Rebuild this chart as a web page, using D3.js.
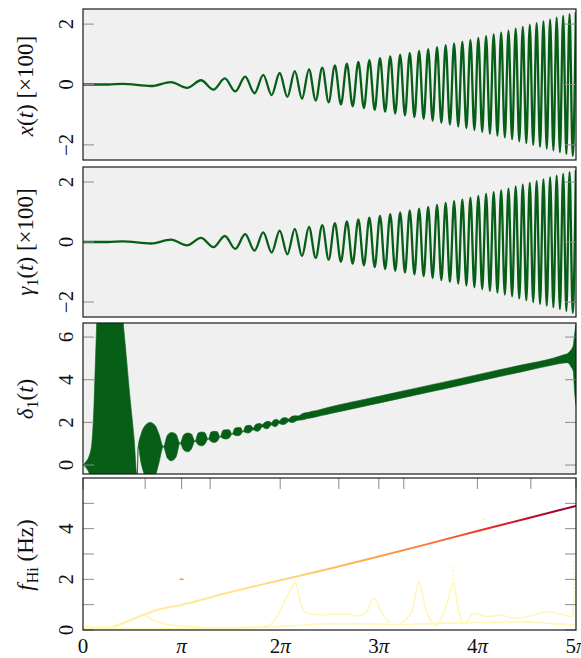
<!DOCTYPE html>
<html><head><meta charset="utf-8">
<script src="https://cdn.jsdelivr.net/npm/d3@7"></script>
<style>
body{margin:0;background:#fff}
text{font-family:"Liberation Serif","DejaVu Serif",serif;fill:#111}
</style>
</head><body>
<svg id="c" width="581" height="658"></svg>
<script>
// ---------- DATA ----------
// times of the successive extrema of x(t) and gamma1(t)
const extremaT = [1.2533,2.1708,2.8025,3.3160,3.7600,4.1568,4.5189,4.8541,5.1675,5.4631,5.7434,6.0107,6.2666,6.5124,6.7493,6.9782,7.1998,7.4147,7.6236,7.8269,8.0251,8.2185,8.4075,8.5923,8.7732,8.9505,9.1242,9.2948,9.4623,9.6269,9.7887,9.9479,10.1046,10.2589,10.4108,10.5606,10.7083,10.8540,10.9978,11.1397,11.2798,11.4183,11.5550,11.6901,11.8237,11.9559,12.0865,12.2158,12.3437,12.4703,12.5956,12.7198,12.8427,12.9644,13.0850,13.2045,13.3229,13.4403,13.5567,13.6720,13.7865,13.8999,14.0125,14.1242,14.2349,14.3448,14.4539,14.5622,14.6697,14.7764,14.8823,14.9875,15.0919,15.1956,15.2986,15.4010,15.5026,15.6036,15.7040];
// x(t) values at those extrema (x100)
const xValues = [0.02,-0.05,0.08,-0.11,0.14,-0.17,0.20,-0.23,0.26,-0.29,0.32,-0.35,0.38,-0.41,0.44,-0.47,0.50,-0.53,0.56,-0.59,0.63,-0.66,0.69,-0.72,0.75,-0.78,0.81,-0.84,0.87,-0.90,0.93,-0.96,0.99,-1.02,1.05,-1.08,1.11,-1.14,1.17,-1.20,1.24,-1.27,1.30,-1.33,1.36,-1.39,1.42,-1.45,1.48,-1.51,1.54,-1.57,1.60,-1.63,1.66,-1.69,1.72,-1.75,1.78,-1.81,1.85,-1.88,1.91,-1.94,1.97,-2.00,2.03,-2.06,2.09,-2.12,2.15,-2.18,2.21,-2.24,2.27,-2.30,2.33,-2.36,2.39];
// gamma1(t) values at those extrema (x100)
const gammaValues = [0.02,-0.05,0.08,-0.11,0.14,-0.17,0.20,-0.23,0.26,-0.29,0.32,-0.35,0.38,-0.41,0.44,-0.47,0.50,-0.53,0.56,-0.59,0.63,-0.66,0.69,-0.72,0.75,-0.78,0.81,-0.84,0.87,-0.90,0.93,-0.96,0.99,-1.02,1.05,-1.08,1.11,-1.14,1.17,-1.20,1.24,-1.27,1.30,-1.33,1.36,-1.39,1.42,-1.45,1.48,-1.51,1.54,-1.57,1.60,-1.63,1.66,-1.69,1.72,-1.75,1.78,-1.81,1.85,-1.88,1.91,-1.94,1.97,-2.00,2.03,-2.06,2.09,-2.12,2.15,-2.18,2.21,-2.24,2.27,-2.30,2.33,-2.36,2.39];

// delta1(t): envelope (lower / upper) of the fast-oscillating band
const deltaT  = [0,0.09,0.19,0.28,0.35,0.41,0.48,1.18,1.31,1.50,1.63,1.72,1.76,1.85,1.98,2.14,2.30,2.42,2.56,
  2.69,2.82,2.96,3.09, 3.21,3.33,3.45,3.57, 3.67,3.78,3.88,3.99, 4.08,4.18,4.28,4.37, 4.46,4.56,4.66,4.75,
  4.84,4.93,5.02,5.10, 5.18,5.26,5.34,5.42, 5.50,5.57,5.64,5.71, 5.79,5.86,5.93,6.00, 6.07,6.13,6.19,6.25,
  6.33,6.40,6.47,6.55, 6.63,6.70,6.77,6.85, 7.00,7.15,7.30,7.45,7.60, 8,9,10,11,12,13,14,15,15.30,15.45,15.55,15.62,15.66,15.71];
const deltaLo = [0,-0.10,-0.35,-0.70,-1,-1,-1,-1,-1,-1,-1,-1,0.86,0.10,-0.50,-0.70,-0.50,0.10,0.86,
  0.32,0.20,0.36,1.02, 0.70,0.62,0.74,1.12, 0.95,0.90,0.98,1.22, 1.10,1.06,1.12,1.32, 1.25,1.22,1.27,1.45,
  1.40,1.37,1.42,1.57, 1.52,1.50,1.55,1.66, 1.60,1.58,1.65,1.80, 1.72,1.70,1.76,1.88, 1.82,1.80,1.85,1.96,
  1.90,1.90,1.95,2.04, 2.00,2.00,2.05,2.10, 2.12,2.18,2.22,2.27,2.32, 2.45,2.77,3.09,3.41,3.73,4.06,4.38,4.70,4.78,4.80,4.60,4.40,3.50,2.80];
const deltaHi = [0,0.15,0.40,1.00,2.80,5.50,8,8,6.20,3.13,1.20,-0.50,0.86,1.45,1.85,2.00,1.85,1.45,0.86,
  1.40,1.53,1.45,1.02, 1.42,1.50,1.46,1.12, 1.50,1.55,1.52,1.22, 1.55,1.58,1.56,1.32, 1.63,1.66,1.65,1.45,
  1.73,1.76,1.76,1.57, 1.83,1.86,1.86,1.74, 1.90,1.94,1.95,1.90, 2.00,2.04,2.05,1.98, 2.10,2.14,2.14,2.06,
  2.18,2.22,2.22,2.16, 2.26,2.30,2.31,2.30, 2.42,2.46,2.52,2.56,2.62, 2.77,3.09,3.41,3.73,4.05,4.38,4.70,5.02,5.16,5.24,5.40,5.60,6.10,6.60];

// f_Hi: main ridge (time, frequency Hz, intensity)
const ridgeT = [0.97,1.50,1.92,2.35,3.14,4.70,6.28,7.85,9.42,11.00,12.57,14.14,15.71];
const ridgeF = [0.13,0.39,0.59,0.79,0.99,1.50,1.96,2.42,2.90,3.40,3.91,4.40,4.90];
const ridgeI = [0.01,0.02,0.036,0.054,0.096,0.21,0.38,0.60,0.86,1.17,1.53,1.94,2.39];
// faint secondary ridges
const faintA_T = [0,0.5,0.97,1.3,1.6,1.92,2.2,2.5,2.8,3.14,3.6,4.2,4.8,5.4,5.9,6.18,6.5,6.77,6.93,7.14,7.56,7.99,8.42,8.74,9.0,9.27,9.48,9.64,9.8];
const faintA_F = [0.12,0.12,0.13,0.26,0.4,0.59,0.42,0.27,0.2,0.16,0.12,0.1,0.1,0.12,0.16,0.53,1.32,1.85,1.05,0.66,0.59,0.63,0.63,0.55,0.66,1.25,0.79,0.46,0.29];
const faintB_T = [10.12,10.28,10.49,10.7,10.95,11.24,11.6,11.8,11.98,12.14,12.46,12.89,13.31,13.73,14.16,14.8,15.33,15.6,15.65,15.71];
const faintB_F = [0.26,0.4,0.79,1.85,0.7,0.2,1.05,1.85,0.66,0.24,0.66,0.53,0.59,0.46,0.53,0.72,0.59,0.53,1.32,1.5];
const faintC_T = [0,2,4,6,7,8,9,10,11,12,13,14,15,15.71];
const faintC_F = [0.04,0.05,0.06,0.12,0.2,0.25,0.24,0.22,0.25,0.28,0.3,0.32,0.25,0.2];
const spikeT  = [6.77,10.7,11.8,15.66];
const spikeF0 = [1.85,1.85,1.85,1.5];
const spikeF1 = [1.95,2.0,2.6,2.8];
const dotT = [Math.PI, 12.77];
const dotF = [2.0, 4.39];
const dotI = [1.0, 0.02];

// axes
const xTickPi = [0,1,2,3,4,5];
const xTickLabels = ["0","π","2π","3π","4π","5π"];
const xMinorT = [1.98,4.05,8.15,10.22,14.27];
const yTicksXY = [-2,0,2];
const yTicksDelta = [0,2,4,6];
const yTicksF = [0,2,4];
const yMinorF = [1,3,5];

// ---------- DRAWING ----------
const L=83, R=576, PI=Math.PI;
const svg=d3.select("#c");
const x=d3.scaleLinear().domain([0,5*PI]).range([L,R]);
const green="#075e17";
const defs=svg.append("defs");

function makePanel(id,top,bottom,domain,bg){
  const y=d3.scaleLinear().domain(domain).range([bottom,top]);
  defs.append("clipPath").attr("id","clip"+id).append("rect")
    .attr("x",L).attr("y",top).attr("width",R-L).attr("height",bottom-top);
  svg.append("rect").attr("x",L).attr("y",top).attr("width",R-L).attr("height",bottom-top).attr("fill",bg);
  const g=svg.append("g").attr("clip-path","url(#clip"+id+")");
  return {y,g,top,bottom};
}
function yTicks(p,vals,labels,len){
  vals.forEach(v=>{
    const yy=p.y(v);
    svg.append("line").attr("x1",L).attr("x2",L+len).attr("y1",yy).attr("y2",yy).attr("stroke","#8c8c8c").attr("stroke-width",1);
    svg.append("line").attr("x1",R-len).attr("x2",R).attr("y1",yy).attr("y2",yy).attr("stroke","#8c8c8c").attr("stroke-width",1);
  });
  if(labels){
    vals.forEach(v=>{
      const yy=p.y(v);
      svg.append("text").attr("transform",`translate(66,${yy}) rotate(-90)`)
        .attr("text-anchor","middle").attr("dy","0.35em").attr("font-size",21)
        .text(v<0?"\u2212"+Math.abs(v):String(v));
    });
  }
}
function frame(p){
  svg.append("rect").attr("x",L).attr("y",p.top).attr("width",R-L).attr("height",p.bottom-p.top)
    .attr("fill","none").attr("stroke","#1a1a1a").attr("stroke-width",1.2);
}
function yTitle(cy,build){
  const t=svg.append("text").attr("transform",`translate(33,${cy}) rotate(-90)`)
    .attr("text-anchor","middle").attr("font-size",23);
  build(t);
}

// Panel 1: x(t)
const p1=makePanel(1,9,160,[-2.5,2.5],"#f0f0f0");
const osc = (vals)=>[[0,0],[0.8,0]].concat(extremaT.map((t,i)=>[t,vals[i]]));
const lineGen=(p)=>d3.line().x(d=>x(d[0])).y(d=>p.y(d[1])).curve(d3.curveMonotoneX);
p1.g.append("path").attr("d",lineGen(p1)(osc(xValues))).attr("fill","none").attr("stroke",green).attr("stroke-width",2.3);
yTicks(p1,yTicksXY,true,11);
frame(p1);
yTitle(86,t=>{
  t.append("tspan").attr("font-style","italic").text("x");
  t.append("tspan").text("(");
  t.append("tspan").attr("font-style","italic").text("t");
  t.append("tspan").text(") [×100]");
});

// Panel 2: gamma1(t)
const p2=makePanel(2,167,317,[-2.5,2.5],"#f0f0f0");
p2.g.append("path").attr("d",lineGen(p2)(osc(gammaValues))).attr("fill","none").attr("stroke",green).attr("stroke-width",2.3);
yTicks(p2,yTicksXY,true,11);
frame(p2);
yTitle(242,t=>{
  t.append("tspan").attr("font-style","italic").text("γ");
  t.append("tspan").attr("font-size",16).attr("dy",5).text("1");
  t.append("tspan").attr("dy",-5).text("(");
  t.append("tspan").attr("font-style","italic").text("t");
  t.append("tspan").text(") [×100]");
});

// Panel 3: delta1(t)
const p3=makePanel(3,323,474,[-0.42,6.66],"#f0f0f0");
const band=deltaT.map((t,i)=>({t,lo:deltaLo[i],hi:deltaHi[i]}));
p3.g.append("path").attr("d",d3.area().x(d=>x(d.t)).y0(d=>p3.y(d.lo)).y1(d=>p3.y(d.hi)).curve(d3.curveMonotoneX)(band))
  .attr("fill",green).attr("stroke",green).attr("stroke-width",0.6);
yTicks(p3,yTicksDelta,true,11);
frame(p3);
yTitle(399,t=>{
  t.append("tspan").attr("font-style","italic").text("δ");
  t.append("tspan").attr("font-size",16).attr("dy",5).text("1");
  t.append("tspan").attr("dy",-5).text("(");
  t.append("tspan").attr("font-style","italic").text("t");
  t.append("tspan").text(")");
});

// Panel 4: f_Hi
const p4=makePanel(4,478,630,[0,6],"#ffffff");
const color=d3.scaleSequential(v=>d3.interpolateYlOrRd(0.1+0.9*v)).domain([0,2.4]);
const faint="#fff7b8";
const fl=d3.line().x(d=>x(d[0])).y(d=>p4.y(d[1])).curve(d3.curveMonotoneX);
[[faintC_T,faintC_F],[faintA_T,faintA_F],[faintB_T,faintB_F]].forEach(([ts,fs])=>{
  p4.g.append("path").attr("d",fl(ts.map((t,i)=>[t,fs[i]]))).attr("fill","none").attr("stroke",faint).attr("stroke-width",1.6);
});
spikeT.forEach((t,i)=>{
  p4.g.append("line").attr("x1",x(t)).attr("x2",x(t)).attr("y1",p4.y(spikeF0[i])).attr("y2",p4.y(spikeF1[i]))
    .attr("stroke",faint).attr("stroke-width",3).attr("stroke-dasharray","1.2,2.5");
});
const grad=defs.append("linearGradient").attr("id","ridgeGrad").attr("gradientUnits","userSpaceOnUse")
  .attr("x1",x(ridgeT[0])).attr("x2",x(ridgeT[ridgeT.length-1])).attr("y1",0).attr("y2",0);
ridgeT.forEach((t,i)=>{
  grad.append("stop").attr("offset",(x(t)-x(ridgeT[0]))/(x(ridgeT[ridgeT.length-1])-x(ridgeT[0])))
    .attr("stop-color",color(ridgeI[i]));
});
p4.g.append("path").attr("d",d3.line().x(d=>x(d[0])).y(d=>p4.y(d[1])).curve(d3.curveMonotoneX)(ridgeT.map((t,i)=>[t,ridgeF[i]])))
  .attr("fill","none").attr("stroke","url(#ridgeGrad)").attr("stroke-width",2);
dotT.forEach((t,i)=>{
  p4.g.append("line").attr("x1",x(t)-2).attr("x2",x(t)+2).attr("y1",p4.y(dotF[i])).attr("y2",p4.y(dotF[i]))
    .attr("stroke",i===0?color(dotI[i]):faint).attr("stroke-width",1.5);
});
yTicks(p4,yTicksF,true,11);
yTicks(p4,yMinorF,false,11);
// x ticks on panel 4
xTickPi.map(k=>k*PI).concat(xMinorT).forEach(t=>{
  svg.append("line").attr("x1",x(t)).attr("x2",x(t)).attr("y1",478).attr("y2",489).attr("stroke","#8c8c8c");
});
frame(p4);
xTickPi.forEach((k,i)=>{
  const tx=svg.append("text").attr("x",x(k*PI)).attr("y",653).attr("text-anchor","middle").attr("font-size",21);
  const lab=xTickLabels[i];
  if(lab.endsWith("π")){
    if(lab.length>1) tx.append("tspan").text(lab.slice(0,-1));
    tx.append("tspan").attr("font-style","italic").text("π");
  } else tx.text(lab);
});
yTitle(555,t=>{
  t.append("tspan").attr("font-style","italic").text("f");
  t.append("tspan").attr("font-size",16).attr("dy",5).attr("dx",1).text("Hi");
  t.append("tspan").attr("dy",-5).text(" (Hz)");
});
</script>
</body></html>
